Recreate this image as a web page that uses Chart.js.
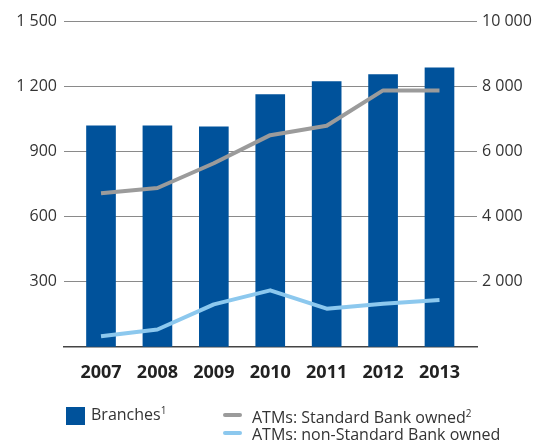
<!DOCTYPE html>
<html>
<head>
<meta charset="utf-8">
<script src="https://cdn.jsdelivr.net/npm/chart.js@4.4.1/dist/chart.umd.min.js"></script>
<style>
  html, body { margin: 0; padding: 0; background: #fff; }
  #wrap { position: relative; width: 545px; height: 444px; overflow: hidden; }
  #chart { position: absolute; left: 0; top: 0; }
  .legend { position: absolute; font-family: "Open Sans", "Noto Sans", sans-serif; font-size: 16px; color: #333; line-height: 18px; white-space: nowrap; }
  .legend sup { font-size: 10px; vertical-align: 6px; line-height: 0; }
  .swatch { position: absolute; }
</style>
</head>
<body>
<div id="wrap">
  <canvas id="chart" width="545" height="444"></canvas>
  <div class="swatch" style="left:66px;top:407px;width:19px;height:18px;background:#00529b"></div>
  <div class="legend" style="left:91px;top:405px">Branches<sup>1</sup></div>
  <div class="swatch" style="left:223px;top:413px;width:19px;height:4px;border-radius:2px;background:#9b9b9b"></div>
  <div class="legend" style="left:252px;top:408px">ATMs: Standard Bank owned<sup>2</sup></div>
  <div class="swatch" style="left:223px;top:431px;width:19px;height:4px;border-radius:2px;background:#8cc8ee"></div>
  <div class="legend" style="left:252px;top:425px">ATMs: non-Standard Bank owned</div>
</div>
<script>
// Years and series values
const years = [2007, 2008, 2009, 2010, 2011, 2012, 2013];
const branches = [1018, 1018, 1013, 1161, 1221, 1253, 1285];
const atmsOwned = [4714, 4877, 5637, 6498, 6785, 7871, 7871];
const atmsNonOwned = [333, 538, 1308, 1738, 1175, 1329, 1440];
const leftTicks = [0, 300, 600, 900, 1200, 1500];
const rightTicks = [0, 2000, 4000, 6000, 8000, 10000];

const fmt = v => v === 0 ? '' : String(v).replace(/\B(?=(\d{3})+(?!\d))/g, ' ');
const pts = arr => arr.map((v, i) => ({ x: years[i], y: v }));
const tickFont = { family: '"Open Sans", "Noto Sans", sans-serif', size: 16 };

new Chart(document.getElementById('chart'), {
  data: {
    datasets: [
      { type: 'line', label: 'ATMs: non-Standard Bank owned', data: pts(atmsNonOwned), yAxisID: 'yR',
        borderColor: '#8cc8ee', borderWidth: 4, pointRadius: 0, tension: 0, borderJoinStyle: 'round', order: 1 },
      { type: 'line', label: 'ATMs: Standard Bank owned', data: pts(atmsOwned), yAxisID: 'yR',
        borderColor: '#9b9b9b', borderWidth: 4, pointRadius: 0, tension: 0, borderJoinStyle: 'round', order: 0 },
      { type: 'bar', label: 'Branches', data: pts(branches), yAxisID: 'yL',
        backgroundColor: '#00529b', barThickness: 29, order: 2 }
    ]
  },
  options: {
    responsive: false,
    animation: false,
    layout: { padding: { top: 21, bottom: 57, left: 0, right: 0 } },
    plugins: { legend: { display: false }, tooltip: { enabled: false } },
    scales: {
      x: {
        type: 'linear', min: 2006.344, max: 2013.665, offset: false, bounds: 'data',
        afterBuildTicks: s => { s.ticks = years.map(v => ({ value: v })); },
        afterFit: s => { s.height = 40; },
        grid: { display: false, offset: false },
        border: { display: true, color: '#444', width: 1.5 },
        ticks: { color: '#222', font: { ...tickFont, size: 18, weight: 'bold' }, padding: 7, callback: v => String(v) }
      },
      yL: {
        position: 'left', min: 0, max: 1500,
        afterBuildTicks: s => { s.ticks = leftTicks.map(v => ({ value: v })); },
        afterFit: s => { s.width = 64; },
        border: { display: false },
        grid: { color: c => c.tick && c.tick.value === 0 ? 'rgba(0,0,0,0)' : '#8a8a8a', borderDash: [2, 2], lineWidth: 1, drawTicks: false },
        ticks: { color: '#333', font: tickFont, padding: 7, callback: v => fmt(v) }
      },
      yR: {
        position: 'right', min: 0, max: 10000,
        afterBuildTicks: s => { s.ticks = rightTicks.map(v => ({ value: v })); },
        afterFit: s => { s.width = 68; },
        border: { display: false },
        grid: { display: false, drawTicks: false },
        ticks: { color: '#333', font: tickFont, padding: 5, callback: v => fmt(v) }
      }
    }
  }
});
</script>
</body>
</html>
